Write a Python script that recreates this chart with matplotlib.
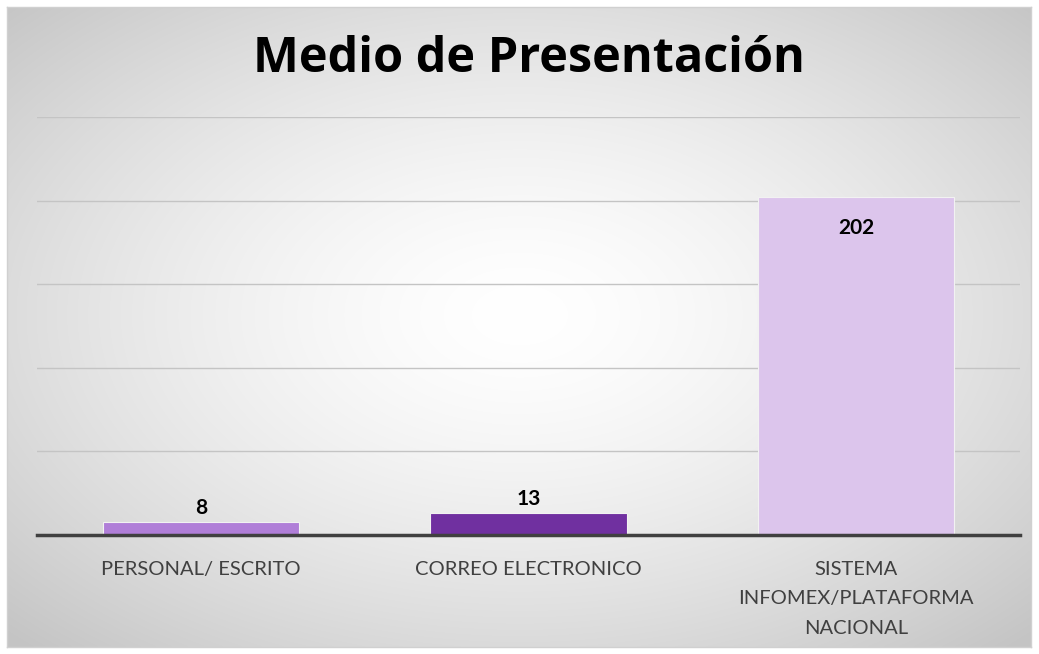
import numpy as np
import matplotlib
matplotlib.use("Agg")
import matplotlib.pyplot as plt

categories = ["PERSONAL/ ESCRITO", "CORREO ELECTRONICO", "SISTEMA\nINFOMEX/PLATAFORMA\nNACIONAL"]
values = [8, 13, 202]
colors = ["#B07ED8", "#7030A0", "#DCC5EC"]
title = "Medio de Presentación"

W, H = 1039, 654
fig = plt.figure(figsize=(W / 100, H / 100), dpi=100)
fig.patch.set_facecolor("white")

# background radial gradient
bg = fig.add_axes([7 / W, 7 / H, 1024 / W, 640 / H])
ny, nx = 320, 512
yy, xx = np.mgrid[0:ny, 0:nx]
cx, cy = nx * 0.5, ny * 0.48
r = np.sqrt(((xx - cx) / (nx * 0.5)) ** 2 + ((yy - cy) / (ny * 0.5)) ** 2) / np.sqrt(2)
g = 1.0 - 0.23 * np.clip(r, 0, 1) ** 1.5
img = np.dstack([g, g, g])
bg.imshow(img, aspect="auto", extent=[0, 1, 0, 1], interpolation="bilinear")
bg.set_xlim(0, 1)
bg.set_ylim(0, 1)
bg.set_xticks([])
bg.set_yticks([])
for s in bg.spines.values():
    s.set_color("#d0d0d0")
    s.set_linewidth(1)

ax = fig.add_axes([37 / W, (H - 535) / H, (1020 - 37) / W, (535 - 117) / H])
ax.set_facecolor("none")
x = np.arange(len(categories))
ax.bar(x, values, width=0.6, color=colors, edgecolor="#f2f2f2", linewidth=0.8, zorder=3)
ax.set_xlim(-0.5, len(categories) - 0.5)
ax.set_ylim(0, 250)
ax.set_yticks([50, 100, 150, 200, 250])
ax.yaxis.grid(True, color="#c4c4c4", linewidth=1.0, zorder=0)
ax.tick_params(axis="y", left=False, labelleft=False)
ax.tick_params(axis="x", bottom=False, pad=15)
for side in ["left", "right", "top"]:
    ax.spines[side].set_visible(False)
ax.spines["bottom"].set_color("#404040")
ax.spines["bottom"].set_linewidth(2.5)
ax.spines["bottom"].set_zorder(4)
ax.set_xticks(x)
ax.set_xticklabels(categories, fontsize=14.5, color="#404040",
                   family=["Lato", "DejaVu Sans"], linespacing=1.9)

for xi, v in zip(x, values):
    off = -22 if v > 100 else 10
    ax.annotate(str(v), (xi, v), xytext=(0, off), textcoords="offset points",
                ha="center", va="center", fontsize=15, fontweight="bold",
                family=["Lato", "DejaVu Sans"], color="black", zorder=5)

fig.text(529 / W, (H - 59) / H, title, ha="center", va="center", fontsize=35,
         fontweight="bold", family=["Open Sans", "DejaVu Sans"], color="black")

fig.savefig("out.png", dpi=100)
